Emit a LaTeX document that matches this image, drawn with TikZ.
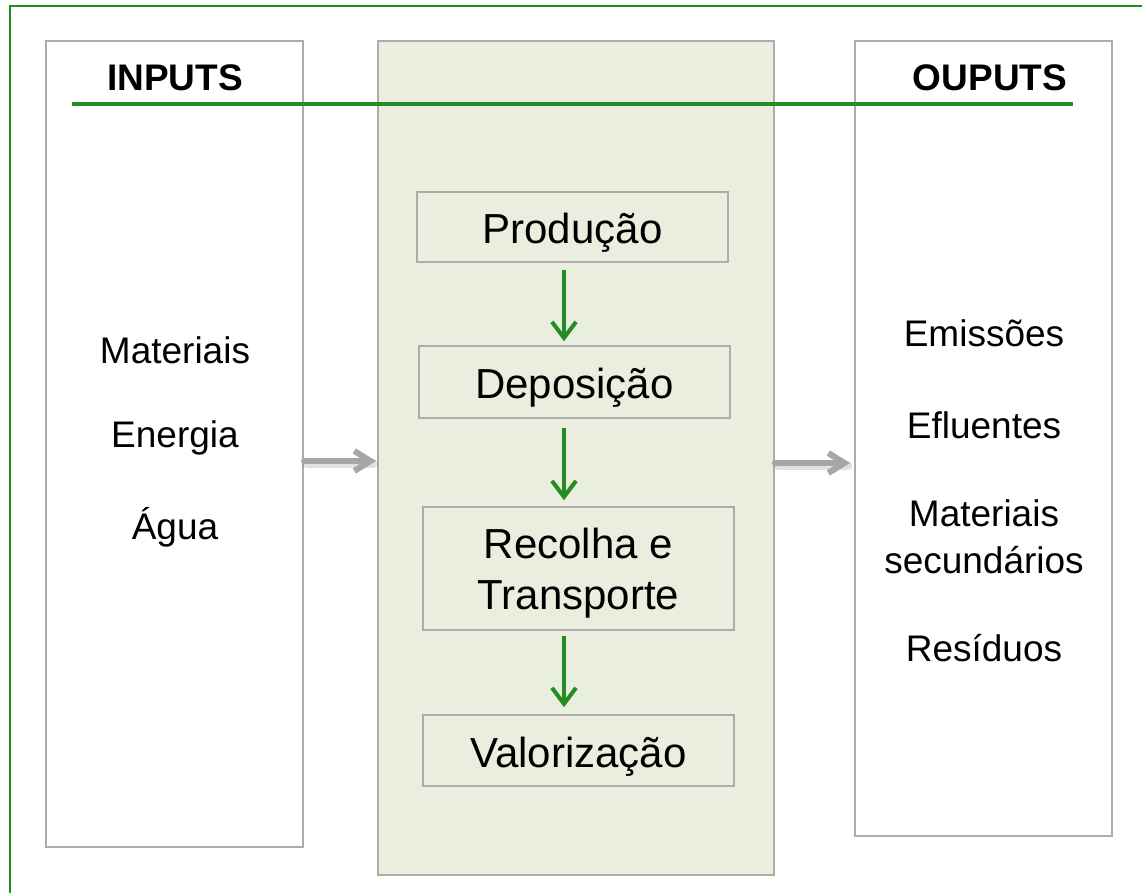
\documentclass[tikz,border=0pt]{standalone}
\usepackage{fontspec}
\setmainfont{Liberation Sans}
\usetikzlibrary{arrows.meta}
\definecolor{frame}{RGB}{35,140,35}
\definecolor{boxgray}{RGB}{172,172,172}
\definecolor{midfill}{RGB}{234,238,222}
\definecolor{arrgray}{RGB}{166,166,166}
\tikzset{
  colbox/.style={draw=boxgray, line width=1pt, inner sep=0pt},
  stepbox/.style={draw=boxgray, line width=0.8pt, fill=midfill, inner sep=0pt,
    minimum width=155.5pt},
  steptext/.style={align=center, font=\fontsize{21}{25.5}\selectfont, inner sep=0pt},
  sidetext/.style={align=center, font=\fontsize{18.5}{23.5}\selectfont},
  headtext/.style={font=\fontsize{18.5}{22}\selectfont\bfseries},
  greenarrow/.style={draw=frame, line width=2pt, -{Straight Barb[length=8pt,width=12pt,line width=2pt]}},
  grayarrow/.style={draw=arrgray, line width=3pt, line cap=round, -{Straight Barb[length=8pt,width=10pt,line width=3pt]}},
  shadowarrow/.style={draw=black, opacity=0.12, line width=4.5pt, line cap=round}
}
\begin{document}
\begin{tikzpicture}[x=0.5pt,y=-0.5pt]
\useasboundingbox (0,0) rectangle (1142,893);
\fill[white] (0,0) rectangle (1142,893);
% outer frame (right and bottom edges lie outside the picture)
\coordinate (fTR) at (1142,6);
\coordinate (fTL) at (10,6);
\coordinate (fBL) at (10,893);
\draw[frame, line width=1pt] (fTR) -- (fTL) -- (fBL);

% columns
\node[colbox, minimum width=128.5pt, minimum height=403pt] (left) at (174.5,444) {};
\node[colbox, fill=midfill, minimum width=198pt, minimum height=417pt] (mid) at (576,458) {};
\node[colbox, minimum width=128.5pt, minimum height=397.5pt] (right) at (983.5,438.5) {};

% headers
\node[headtext] (inputs) at (175,78) {INPUTS};
\node[headtext] (outputs) at (990,78) {OUPUTS};
\coordinate (gl) at (72,104);
\coordinate (gr) at (1073,104);
\draw[frame, line width=1.75pt] (gl) -- (gr);

% process steps
\node[stepbox, minimum height=35pt] (prod) at (572.5,227) {};
\node[steptext, yshift=-3pt] (prodt) at (prod.center) {Produção};
\node[stepbox, minimum height=36pt] (dep) at (574.5,382) {};
\node[steptext, yshift=-3pt] (dept) at (dep.center) {Deposição};
\node[stepbox, minimum height=61.5pt] (rec) at (578.5,568.5) {};
\node[steptext, yshift=-2.5pt] (rect) at (rec.center) {Recolha e\\Transporte};
\node[stepbox, minimum height=35.5pt] (val) at (578.5,750.5) {};
\node[steptext, yshift=-3pt] (valt) at (val.center) {Valorização};

\coordinate (ax) at (564,0);
\draw[greenarrow, shorten <=3.5pt, shorten >=2pt] (prod.south -| ax) -- (dep.north -| ax);
\draw[greenarrow, shorten <=4.5pt, shorten >=3pt] (dep.south -| ax) -- (rec.north -| ax);
\draw[greenarrow, shorten <=2.5pt, shorten >=3.5pt] (rec.south -| ax) -- (val.north -| ax);

% inputs
\node[sidetext] (mat) at (175,350) {Materiais};
\node[sidetext] (ene) at (175,438) {Energia};
\node[sidetext] (agua) at (175,527) {Água};

% outputs
\node[sidetext] (emi) at (984,333) {Emissões};
\node[sidetext] (eflu) at (984,425) {Efluentes};
\node[sidetext] (matsec) at (984,537) {Materiais\\secundários};
\node[sidetext] (res) at (984,648) {Resíduos};

% gray flow arrows
\coordinate (ya) at (0,461);
\coordinate (yb) at (0,463);
\draw[shadowarrow] ([xshift=1.5pt,yshift=-1.5pt]left.east |- ya) -- ([xshift=-2pt,yshift=-1.5pt]mid.west |- ya);
\draw[grayarrow] (left.east |- ya) -- ([xshift=-0.5pt]mid.west |- ya);
\draw[shadowarrow] ([xshift=1.5pt,yshift=-1.5pt]mid.east |- yb) -- ([xshift=-3pt,yshift=-1.5pt]right.west |- yb);
\draw[grayarrow] (mid.east |- yb) -- ([xshift=-2pt]right.west |- yb);
\end{tikzpicture}
\end{document}
